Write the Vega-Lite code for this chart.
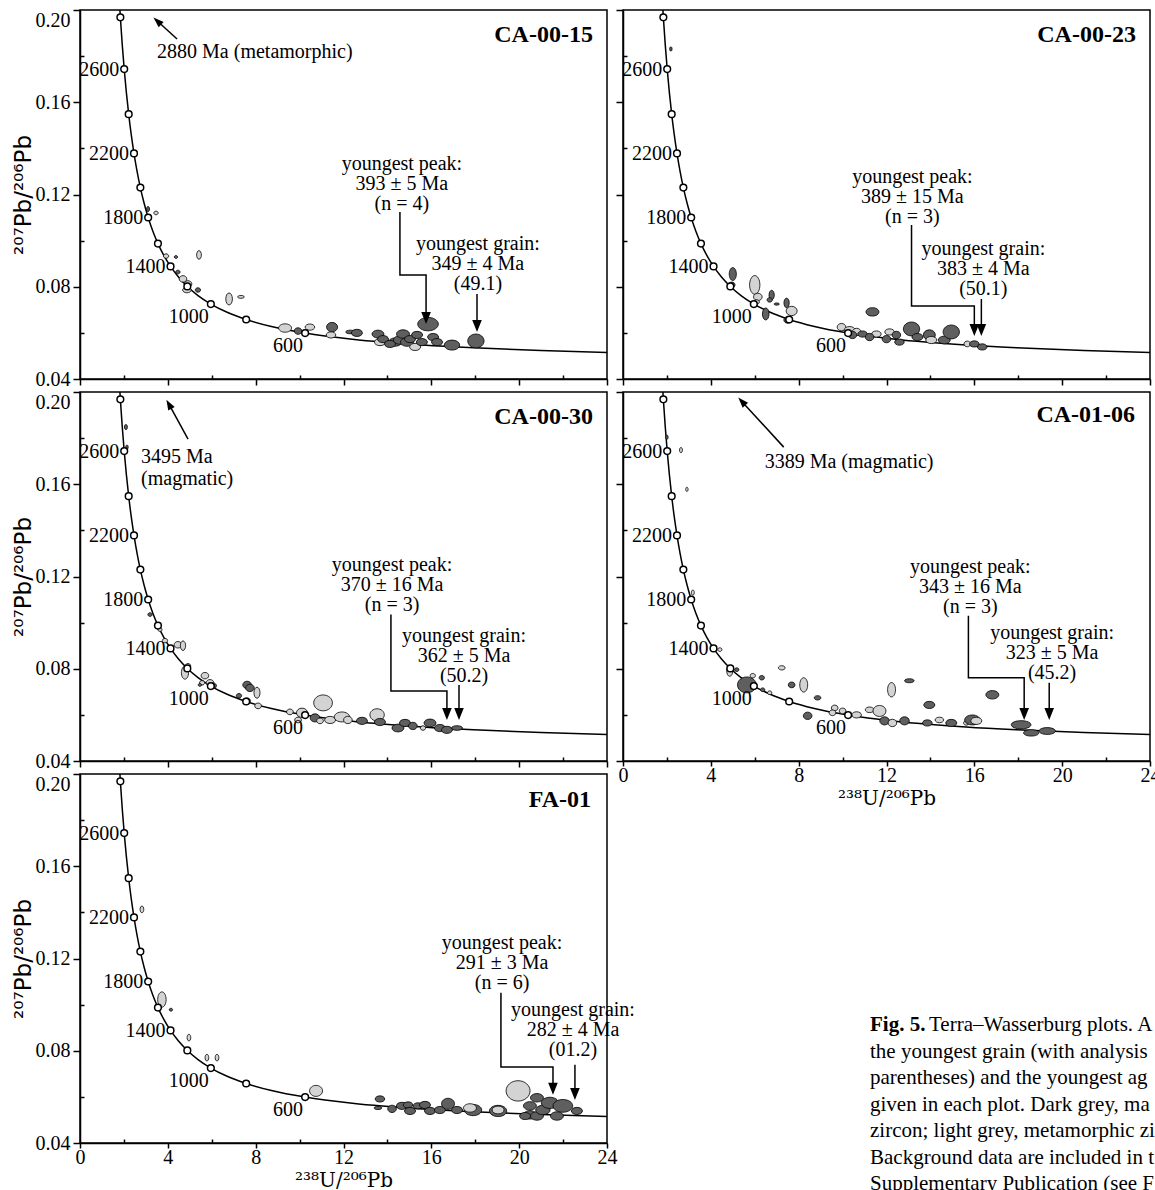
{
"$schema":"https://vega.github.io/schema/vega-lite/v6.json",
"background":"white",
"padding":{"left":11,"top":8,"right":0,"bottom":0},
"bounds":"flush",
"columns":2,
"spacing":{"row":13,"column":16},
"datasets":{
"conc":[{"t":250,"x":25.289,"y":0.051204},{"t":260,"x":24.297,"y":0.051427},{"t":300,"x":20.992,"y":0.052333},{"t":350,"x":17.923,"y":0.053499},{"t":400,"x":15.621,"y":0.054701},{"t":500,"x":12.399,"y":0.05722},{"t":600,"x":10.252,"y":0.059902},{"t":700,"x":8.718,"y":0.062758},{"t":800,"x":7.568,"y":0.0658},{"t":900,"x":6.674,"y":0.069042},{"t":1000,"x":5.959,"y":0.0725},{"t":1100,"x":5.375,"y":0.076187},{"t":1200,"x":4.888,"y":0.080123},{"t":1300,"x":4.476,"y":0.084323},{"t":1400,"x":4.123,"y":0.088807},{"t":1500,"x":3.817,"y":0.093597},{"t":1600,"x":3.55,"y":0.098715},{"t":1700,"x":3.314,"y":0.104185},{"t":1800,"x":3.105,"y":0.110036},{"t":1900,"x":2.917,"y":0.116293},{"t":2000,"x":2.749,"y":0.122987},{"t":2100,"x":2.597,"y":0.130151},{"t":2200,"x":2.459,"y":0.137819},{"t":2300,"x":2.332,"y":0.146034},{"t":2400,"x":2.217,"y":0.154834},{"t":2500,"x":2.111,"y":0.16426},{"t":2600,"x":2.013,"y":0.174366},{"t":2700,"x":1.922,"y":0.185203},{"t":2800,"x":1.838,"y":0.196821},{"t":2850,"x":1.799,"y":0.202942}],
"pts":[
{"p":"A","x":3.10,"y":0.1137,"e":0.11,"f":"v","k":"d"},{"p":"A","x":3.46,"y":0.1120,"e":0.09,"f":"c","k":"l"},{"p":"A","x":5.42,"y":0.0938,"e":0.18,"f":"v","k":"l"},{"p":"A","x":3.92,"y":0.0933,"e":0.11,"f":"c","k":"l"},{"p":"A","x":4.37,"y":0.0929,"e":0.07,"f":"c","k":"d"},{"p":"A","x":4.46,"y":0.0864,"e":0.09,"f":"c","k":"d"},{"p":"A","x":4.69,"y":0.0834,"e":0.16,"f":"c","k":"l"},{"p":"A","x":4.92,"y":0.0812,"e":0.16,"f":"c","k":"l"},{"p":"A","x":4.87,"y":0.0786,"e":0.18,"f":"h","k":"l"},{"p":"A","x":5.37,"y":0.0786,"e":0.11,"f":"c","k":"d"},{"p":"A","x":6.79,"y":0.0747,"e":0.25,"f":"v","k":"l"},{"p":"A","x":7.33,"y":0.0756,"e":0.14,"f":"f","k":"l"},{"p":"A","x":9.34,"y":0.0621,"e":0.27,"f":"h","k":"l"},{"p":"A","x":9.93,"y":0.0608,"e":0.16,"f":"c","k":"d"},{"p":"A","x":10.47,"y":0.0625,"e":0.2,"f":"h","k":"l"},{"p":"A","x":11.48,"y":0.0625,"e":0.23,"f":"c","k":"d"},{"p":"A","x":11.43,"y":0.0591,"e":0.2,"f":"h","k":"l"},{"p":"A","x":12.30,"y":0.0604,"e":0.18,"f":"f","k":"d"},{"p":"A","x":12.61,"y":0.0600,"e":0.23,"f":"h","k":"d"},{"p":"A","x":13.57,"y":0.0595,"e":0.25,"f":"h","k":"d"},{"p":"A","x":13.66,"y":0.0560,"e":0.23,"f":"h","k":"l"},{"p":"A","x":13.80,"y":0.0573,"e":0.23,"f":"h","k":"d"},{"p":"A","x":14.35,"y":0.0560,"e":0.27,"f":"h","k":"d"},{"p":"A","x":14.12,"y":0.0552,"e":0.23,"f":"h","k":"d"},{"p":"A","x":14.57,"y":0.0569,"e":0.27,"f":"h","k":"d"},{"p":"A","x":14.71,"y":0.0595,"e":0.27,"f":"h","k":"d"},{"p":"A","x":14.89,"y":0.0560,"e":0.27,"f":"h","k":"d"},{"p":"A","x":15.03,"y":0.0573,"e":0.23,"f":"h","k":"d"},{"p":"A","x":15.26,"y":0.0539,"e":0.23,"f":"h","k":"l"},{"p":"A","x":15.35,"y":0.0591,"e":0.23,"f":"h","k":"d"},{"p":"A","x":15.57,"y":0.0560,"e":0.23,"f":"h","k":"d"},{"p":"A","x":15.85,"y":0.0638,"e":0.43,"f":"h","k":"d"},{"p":"A","x":16.08,"y":0.0582,"e":0.23,"f":"h","k":"d"},{"p":"A","x":16.26,"y":0.0560,"e":0.23,"f":"h","k":"d"},{"p":"A","x":16.94,"y":0.0547,"e":0.32,"f":"h","k":"d"},{"p":"A","x":18.03,"y":0.0565,"e":0.34,"f":"c","k":"d"},
{"p":"B","x":2.18,"y":0.1831,"e":0.09,"f":"v","k":"d"},{"p":"B","x":5.00,"y":0.0855,"e":0.27,"f":"v","k":"d"},{"p":"B","x":4.95,"y":0.0808,"e":0.14,"f":"c","k":"d"},{"p":"B","x":6.00,"y":0.0808,"e":0.39,"f":"v","k":"l"},{"p":"B","x":6.14,"y":0.0756,"e":0.18,"f":"c","k":"l"},{"p":"B","x":6.09,"y":0.0734,"e":0.11,"f":"c","k":"l"},{"p":"B","x":6.77,"y":0.0764,"e":0.2,"f":"v","k":"d"},{"p":"B","x":6.68,"y":0.0743,"e":0.11,"f":"c","k":"d"},{"p":"B","x":7.00,"y":0.0725,"e":0.11,"f":"f","k":"d"},{"p":"B","x":7.45,"y":0.0730,"e":0.2,"f":"v","k":"d"},{"p":"B","x":7.68,"y":0.0695,"e":0.23,"f":"c","k":"l"},{"p":"B","x":7.50,"y":0.0656,"e":0.16,"f":"c","k":"d"},{"p":"B","x":6.50,"y":0.0682,"e":0.25,"f":"v","k":"d"},{"p":"B","x":11.36,"y":0.0691,"e":0.27,"f":"h","k":"d"},{"p":"B","x":9.95,"y":0.0625,"e":0.18,"f":"c","k":"l"},{"p":"B","x":10.32,"y":0.0612,"e":0.23,"f":"h","k":"l"},{"p":"B","x":10.64,"y":0.0604,"e":0.18,"f":"c","k":"l"},{"p":"B","x":10.45,"y":0.0591,"e":0.18,"f":"c","k":"d"},{"p":"B","x":10.91,"y":0.0595,"e":0.2,"f":"h","k":"d"},{"p":"B","x":11.54,"y":0.0595,"e":0.2,"f":"h","k":"l"},{"p":"B","x":11.23,"y":0.0582,"e":0.18,"f":"c","k":"d"},{"p":"B","x":12.14,"y":0.0604,"e":0.2,"f":"h","k":"l"},{"p":"B","x":12.00,"y":0.0573,"e":0.18,"f":"c","k":"d"},{"p":"B","x":12.45,"y":0.0591,"e":0.18,"f":"c","k":"d"},{"p":"B","x":12.59,"y":0.0560,"e":0.2,"f":"h","k":"d"},{"p":"B","x":13.14,"y":0.0617,"e":0.34,"f":"c","k":"d"},{"p":"B","x":13.41,"y":0.0582,"e":0.23,"f":"h","k":"d"},{"p":"B","x":13.95,"y":0.0591,"e":0.25,"f":"c","k":"d"},{"p":"B","x":14.04,"y":0.0569,"e":0.23,"f":"h","k":"l"},{"p":"B","x":14.63,"y":0.0569,"e":0.25,"f":"h","k":"d"},{"p":"B","x":14.95,"y":0.0604,"e":0.34,"f":"c","k":"d"},{"p":"B","x":15.68,"y":0.0552,"e":0.14,"f":"c","k":"l"},{"p":"B","x":16.00,"y":0.0552,"e":0.2,"f":"h","k":"d"},{"p":"B","x":16.36,"y":0.0539,"e":0.2,"f":"h","k":"d"},
{"p":"C","x":2.09,"y":0.1848,"e":0.11,"f":"v","k":"d"},{"p":"C","x":2.14,"y":0.1761,"e":0.09,"f":"v","k":"d"},{"p":"C","x":3.19,"y":0.1035,"e":0.09,"f":"c","k":"d"},{"p":"C","x":3.55,"y":0.0987,"e":0.11,"f":"c","k":"l"},{"p":"C","x":3.64,"y":0.0970,"e":0.09,"f":"c","k":"l"},{"p":"C","x":3.87,"y":0.0922,"e":0.11,"f":"c","k":"l"},{"p":"C","x":4.46,"y":0.0904,"e":0.16,"f":"c","k":"l"},{"p":"C","x":4.69,"y":0.0900,"e":0.2,"f":"v","k":"l"},{"p":"C","x":4.78,"y":0.0783,"e":0.27,"f":"v","k":"l"},{"p":"C","x":4.92,"y":0.0813,"e":0.11,"f":"c","k":"l"},{"p":"C","x":5.56,"y":0.0739,"e":0.11,"f":"c","k":"l"},{"p":"C","x":5.69,"y":0.0770,"e":0.16,"f":"c","k":"l"},{"p":"C","x":5.92,"y":0.0739,"e":0.16,"f":"c","k":"l"},{"p":"C","x":6.06,"y":0.0726,"e":0.14,"f":"c","k":"d"},{"p":"C","x":5.46,"y":0.0730,"e":0.07,"f":"c","k":"d"},{"p":"C","x":7.61,"y":0.0730,"e":0.18,"f":"c","k":"d"},{"p":"C","x":7.74,"y":0.0717,"e":0.18,"f":"c","k":"d"},{"p":"C","x":8.06,"y":0.0696,"e":0.23,"f":"v","k":"l"},{"p":"C","x":7.24,"y":0.0683,"e":0.11,"f":"c","k":"d"},{"p":"C","x":7.61,"y":0.0661,"e":0.14,"f":"c","k":"l"},{"p":"C","x":8.11,"y":0.0639,"e":0.14,"f":"c","k":"l"},{"p":"C","x":9.56,"y":0.0613,"e":0.14,"f":"c","k":"l"},{"p":"C","x":10.11,"y":0.0609,"e":0.23,"f":"c","k":"l"},{"p":"C","x":9.93,"y":0.0578,"e":0.14,"f":"c","k":"l"},{"p":"C","x":10.70,"y":0.0587,"e":0.2,"f":"c","k":"d"},{"p":"C","x":11.07,"y":0.0652,"e":0.39,"f":"c","k":"l"},{"p":"C","x":10.93,"y":0.0574,"e":0.14,"f":"c","k":"l"},{"p":"C","x":11.39,"y":0.0578,"e":0.23,"f":"h","k":"l"},{"p":"C","x":11.93,"y":0.0591,"e":0.32,"f":"h","k":"l"},{"p":"C","x":12.20,"y":0.0578,"e":0.18,"f":"c","k":"l"},{"p":"C","x":12.84,"y":0.0574,"e":0.23,"f":"h","k":"d"},{"p":"C","x":13.53,"y":0.0600,"e":0.3,"f":"c","k":"l"},{"p":"C","x":13.66,"y":0.0569,"e":0.23,"f":"h","k":"d"},{"p":"C","x":14.48,"y":0.0543,"e":0.25,"f":"h","k":"d"},{"p":"C","x":14.80,"y":0.0565,"e":0.23,"f":"h","k":"d"},{"p":"C","x":15.16,"y":0.0552,"e":0.18,"f":"c","k":"d"},{"p":"C","x":15.62,"y":0.0543,"e":0.11,"f":"c","k":"l"},{"p":"C","x":15.94,"y":0.0565,"e":0.25,"f":"h","k":"d"},{"p":"C","x":16.39,"y":0.0543,"e":0.23,"f":"h","k":"d"},{"p":"C","x":16.71,"y":0.0535,"e":0.23,"f":"h","k":"d"},{"p":"C","x":17.17,"y":0.0543,"e":0.23,"f":"f","k":"d"},
{"p":"D","x":2.00,"y":0.1804,"e":0.09,"f":"v","k":"d"},{"p":"D","x":2.64,"y":0.1748,"e":0.11,"f":"v","k":"l"},{"p":"D","x":2.91,"y":0.1578,"e":0.09,"f":"v","k":"l"},{"p":"D","x":3.18,"y":0.1130,"e":0.11,"f":"v","k":"l"},{"p":"D","x":4.41,"y":0.0883,"e":0.09,"f":"c","k":"l"},{"p":"D","x":4.86,"y":0.0791,"e":0.23,"f":"v","k":"l"},{"p":"D","x":5.18,"y":0.0796,"e":0.09,"f":"c","k":"d"},{"p":"D","x":5.64,"y":0.0730,"e":0.39,"f":"c","k":"d"},{"p":"D","x":5.91,"y":0.0770,"e":0.11,"f":"c","k":"l"},{"p":"D","x":6.32,"y":0.0761,"e":0.11,"f":"c","k":"d"},{"p":"D","x":6.36,"y":0.0709,"e":0.09,"f":"c","k":"d"},{"p":"D","x":6.68,"y":0.0696,"e":0.09,"f":"c","k":"l"},{"p":"D","x":7.23,"y":0.0804,"e":0.14,"f":"h","k":"l"},{"p":"D","x":7.68,"y":0.0730,"e":0.14,"f":"c","k":"d"},{"p":"D","x":8.23,"y":0.0730,"e":0.3,"f":"v","k":"l"},{"p":"D","x":8.86,"y":0.0674,"e":0.14,"f":"h","k":"d"},{"p":"D","x":8.41,"y":0.0596,"e":0.18,"f":"c","k":"d"},{"p":"D","x":9.64,"y":0.0630,"e":0.14,"f":"c","k":"l"},{"p":"D","x":9.54,"y":0.0609,"e":0.14,"f":"c","k":"l"},{"p":"D","x":10.00,"y":0.0617,"e":0.14,"f":"c","k":"l"},{"p":"D","x":10.64,"y":0.0600,"e":0.2,"f":"h","k":"l"},{"p":"D","x":11.23,"y":0.0622,"e":0.18,"f":"h","k":"l"},{"p":"D","x":11.68,"y":0.0617,"e":0.27,"f":"c","k":"l"},{"p":"D","x":11.91,"y":0.0574,"e":0.2,"f":"c","k":"d"},{"p":"D","x":12.27,"y":0.0565,"e":0.18,"f":"c","k":"l"},{"p":"D","x":12.23,"y":0.0709,"e":0.3,"f":"v","k":"l"},{"p":"D","x":12.82,"y":0.0574,"e":0.2,"f":"c","k":"d"},{"p":"D","x":13.04,"y":0.0748,"e":0.2,"f":"f","k":"d"},{"p":"D","x":13.95,"y":0.0643,"e":0.23,"f":"h","k":"d"},{"p":"D","x":13.86,"y":0.0565,"e":0.2,"f":"h","k":"d"},{"p":"D","x":14.41,"y":0.0578,"e":0.18,"f":"h","k":"l"},{"p":"D","x":14.95,"y":0.0565,"e":0.23,"f":"h","k":"d"},{"p":"D","x":15.63,"y":0.0565,"e":0.11,"f":"c","k":"l"},{"p":"D","x":15.91,"y":0.0578,"e":0.32,"f":"h","k":"d"},{"p":"D","x":16.09,"y":0.0574,"e":0.23,"f":"h","k":"l"},{"p":"D","x":16.82,"y":0.0687,"e":0.27,"f":"h","k":"d"},{"p":"D","x":18.13,"y":0.0557,"e":0.41,"f":"f","k":"d"},{"p":"D","x":18.59,"y":0.0522,"e":0.32,"f":"f","k":"d"},{"p":"D","x":19.32,"y":0.0530,"e":0.34,"f":"f","k":"d"},
{"p":"E","x":2.82,"y":0.1413,"e":0.14,"f":"v","k":"l"},{"p":"E","x":3.73,"y":0.1022,"e":0.32,"f":"v","k":"l"},{"p":"E","x":4.14,"y":0.0978,"e":0.07,"f":"c","k":"d"},{"p":"E","x":4.96,"y":0.0857,"e":0.14,"f":"v","k":"l"},{"p":"E","x":5.78,"y":0.0770,"e":0.14,"f":"v","k":"l"},{"p":"E","x":6.24,"y":0.0770,"e":0.14,"f":"v","k":"l"},{"p":"E","x":10.75,"y":0.0626,"e":0.27,"f":"c","k":"l"},{"p":"E","x":13.66,"y":0.0591,"e":0.2,"f":"h","k":"d"},{"p":"E","x":13.57,"y":0.0552,"e":0.16,"f":"f","k":"d"},{"p":"E","x":14.21,"y":0.0548,"e":0.18,"f":"c","k":"d"},{"p":"E","x":14.66,"y":0.0561,"e":0.23,"f":"h","k":"d"},{"p":"E","x":14.94,"y":0.0565,"e":0.2,"f":"h","k":"d"},{"p":"E","x":15.03,"y":0.0539,"e":0.23,"f":"h","k":"d"},{"p":"E","x":15.39,"y":0.0561,"e":0.2,"f":"h","k":"d"},{"p":"E","x":15.71,"y":0.0565,"e":0.23,"f":"h","k":"d"},{"p":"E","x":15.94,"y":0.0539,"e":0.23,"f":"h","k":"d"},{"p":"E","x":16.39,"y":0.0543,"e":0.23,"f":"h","k":"d"},{"p":"E","x":16.76,"y":0.0570,"e":0.27,"f":"c","k":"d"},{"p":"E","x":17.17,"y":0.0543,"e":0.23,"f":"h","k":"d"},{"p":"E","x":17.90,"y":0.0543,"e":0.36,"f":"h","k":"d"},{"p":"E","x":17.76,"y":0.0552,"e":0.27,"f":"h","k":"l"},{"p":"E","x":19.04,"y":0.0539,"e":0.36,"f":"h","k":"d"},{"p":"E","x":19.04,"y":0.0543,"e":0.25,"f":"h","k":"l"},{"p":"E","x":19.95,"y":0.0626,"e":0.5,"f":"c","k":"l"},{"p":"E","x":20.49,"y":0.0561,"e":0.27,"f":"h","k":"d"},{"p":"E","x":20.81,"y":0.0596,"e":0.27,"f":"h","k":"d"},{"p":"E","x":20.49,"y":0.0522,"e":0.27,"f":"h","k":"d"},{"p":"E","x":20.27,"y":0.0517,"e":0.23,"f":"h","k":"d"},{"p":"E","x":20.81,"y":0.0517,"e":0.27,"f":"h","k":"d"},{"p":"E","x":21.08,"y":0.0543,"e":0.3,"f":"h","k":"d"},{"p":"E","x":21.40,"y":0.0574,"e":0.36,"f":"h","k":"d"},{"p":"E","x":21.99,"y":0.0561,"e":0.41,"f":"h","k":"d"},{"p":"E","x":21.72,"y":0.0517,"e":0.27,"f":"h","k":"d"},{"p":"E","x":22.63,"y":0.0539,"e":0.23,"f":"h","k":"d"}
],
"arrows":[
{"p":"A","id":"o","o":1,"x":4.42,"y":0.1874},{"p":"A","id":"o","o":2,"x":3.52,"y":0.1952},
{"p":"A","id":"p","o":1,"x":14.57,"y":0.1124},{"p":"A","id":"p","o":2,"x":14.57,"y":0.0851},{"p":"A","id":"p","o":3,"x":15.76,"y":0.0851},{"p":"A","id":"p","o":4,"x":15.76,"y":0.0665},
{"p":"A","id":"g","o":1,"x":18.08,"y":0.0769},{"p":"A","id":"g","o":2,"x":18.08,"y":0.063},
{"p":"B","id":"p","o":1,"x":13.14,"y":0.1068},{"p":"B","id":"p","o":2,"x":13.14,"y":0.0717},{"p":"B","id":"p","o":3,"x":16.0,"y":0.0717},{"p":"B","id":"p","o":4,"x":16.0,"y":0.0612},
{"p":"B","id":"g","o":1,"x":16.32,"y":0.0747},{"p":"B","id":"g","o":2,"x":16.32,"y":0.0612},
{"p":"C","id":"o","o":1,"x":4.92,"y":0.1796},{"p":"C","id":"o","o":2,"x":4.05,"y":0.1947},
{"p":"C","id":"p","o":1,"x":14.16,"y":0.1035},{"p":"C","id":"p","o":2,"x":14.16,"y":0.0704},{"p":"C","id":"p","o":3,"x":16.71,"y":0.0704},{"p":"C","id":"p","o":4,"x":16.71,"y":0.0604},
{"p":"C","id":"g","o":1,"x":17.26,"y":0.073},{"p":"C","id":"g","o":2,"x":17.26,"y":0.0604},
{"p":"D","id":"o","o":1,"x":7.32,"y":0.1761},{"p":"D","id":"o","o":2,"x":5.41,"y":0.1959},
{"p":"D","id":"p","o":1,"x":15.73,"y":0.103},{"p":"D","id":"p","o":2,"x":15.73,"y":0.0761},{"p":"D","id":"p","o":3,"x":18.27,"y":0.0761},{"p":"D","id":"p","o":4,"x":18.27,"y":0.0604},
{"p":"D","id":"g","o":1,"x":19.41,"y":0.0739},{"p":"D","id":"g","o":2,"x":19.41,"y":0.0604},
{"p":"E","id":"p","o":1,"x":19.17,"y":0.1052},{"p":"E","id":"p","o":2,"x":19.17,"y":0.073},{"p":"E","id":"p","o":3,"x":21.54,"y":0.073},{"p":"E","id":"p","o":4,"x":21.54,"y":0.0635},
{"p":"E","id":"g","o":1,"x":22.54,"y":0.0739},{"p":"E","id":"g","o":2,"x":22.54,"y":0.0613}
],
"heads":[
{"p":"A","d":"v","x":15.76,"y":0.0665},{"p":"A","d":"v","x":18.08,"y":0.063},{"p":"A","d":"g","x":3.52,"y":0.1952},
{"p":"B","d":"v","x":16.0,"y":0.0612},{"p":"B","d":"v","x":16.32,"y":0.0612},
{"p":"C","d":"v","x":16.71,"y":0.0604},{"p":"C","d":"v","x":17.26,"y":0.0604},{"p":"C","d":"g","x":4.05,"y":0.1947},
{"p":"D","d":"v","x":18.27,"y":0.0604},{"p":"D","d":"v","x":19.41,"y":0.0604},{"p":"D","d":"g","x":5.41,"y":0.1959},
{"p":"E","d":"v","x":21.54,"y":0.0635},{"p":"E","d":"v","x":22.54,"y":0.0613}
],
"notes":[
{"p":"A","k":"title","x":23.36,"y":0.1892,"txt":"CA-00-15"},
{"p":"A","k":"peak","x":14.66,"y":0.1306,"txt":"youngest peak:\n393 ± 5 Ma\n(n = 4)"},
{"p":"A","k":"grain","x":18.12,"y":0.0959,"txt":"youngest grain:\n349 ± 4 Ma\n(49.1)"},
{"p":"A","k":"old","x":3.51,"y":0.1792,"txt":"2880 Ma (metamorphic)"},
{"p":"B","k":"title","x":23.36,"y":0.1892,"txt":"CA-00-23"},
{"p":"B","k":"peak","x":13.18,"y":0.125,"txt":"youngest peak:\n389 ± 15 Ma\n(n = 3)"},
{"p":"B","k":"grain","x":16.41,"y":0.0938,"txt":"youngest grain:\n383 ± 4 Ma\n(50.1)"},
{"p":"C","k":"title","x":23.36,"y":0.1891,"txt":"CA-00-30"},
{"p":"C","k":"peak","x":14.21,"y":0.1222,"txt":"youngest peak:\n370 ± 16 Ma\n(n = 3)"},
{"p":"C","k":"grain","x":17.49,"y":0.0917,"txt":"youngest grain:\n362 ± 5 Ma\n(50.2)"},
{"p":"C","k":"old","x":2.78,"y":0.1691,"txt":"3495 Ma\n(magmatic)"},
{"p":"D","k":"title","x":23.32,"y":0.19,"txt":"CA-01-06"},
{"p":"D","k":"peak","x":15.82,"y":0.1217,"txt":"youngest peak:\n343 ± 16 Ma\n(n = 3)"},
{"p":"D","k":"grain","x":19.54,"y":0.093,"txt":"youngest grain:\n323 ± 5 Ma\n(45.2)"},
{"p":"D","k":"old","x":6.45,"y":0.167,"txt":"3389 Ma (magmatic)"},
{"p":"E","k":"title","x":23.27,"y":0.1887,"txt":"FA-01"},
{"p":"E","k":"peak","x":19.22,"y":0.1243,"txt":"youngest peak:\n291 ± 3 Ma\n(n = 6)"},
{"p":"E","k":"grain","x":22.45,"y":0.0952,"txt":"youngest grain:\n282 ± 4 Ma\n(01.2)"}
],
"cap":[
{"r":1,"t":"Terra–Wasserburg plots. Ages of"},
{"r":2,"t":"the youngest grain (with analysis number in"},
{"r":3,"t":"parentheses) and the youngest age peak are"},
{"r":4,"t":"given in each plot. Dark grey, magmatic"},
{"r":5,"t":"zircon; light grey, metamorphic zircon."},
{"r":6,"t":"Background data are included in the"},
{"r":7,"t":"Supplementary Publication (see Footnote)."}
]
},
"concat":[
{"width":527,"height":369,
"encoding":{
"x":{"field":"x","type":"quantitative","scale":{"domain":[0,24],"nice":false,"zero":false},"axis":{"values":[0,2,4,6,8,10,12,14,16,18,20,22,24],"labels":false,"title":null,"tickSize":{"condition":{"test":"datum.value % 4 == 0","value":6},"value":-4}}},
"y":{"field":"y","type":"quantitative","scale":{"domain":[0.04,0.2],"nice":false,"zero":false},"axis":{"values":[0.04,0.06,0.08,0.1,0.12,0.14,0.16,0.18,0.2],"format":".2f","labelExpr":"round(datum.value*100) % 4 == 0 ? datum.label : ''","tickSize":{"condition":{"test":"round(datum.value*100) % 4 == 0","value":7},"value":-4},"labelBaseline":{"condition":{"test":"datum.value > 0.19","value":"top"},"value":"middle"},"labelPadding":3,"labelFlush":false,"labelOverlap":false,"title":"²⁰⁷Pb/²⁰⁶Pb","titleFont":"DejaVu Sans","titleFontSize":23,"titlePadding":0}}
},
"layer":[
{"data":{"name":"conc"},"mark":{"type":"line","clip":true,"color":"black","strokeWidth":1.5,"interpolate":"monotone"}},
{"data":{"name":"pts"},"transform":[{"filter":"datum.p == 'A'"}],"mark":{"type":"point","filled":true,"opacity":1,"stroke":"black","strokeWidth":0.8},"encoding":{"shape":{"field":"f","type":"nominal","scale":{"domain":["h","c","v","f"],"range":["M -1 0 A 1 0.65 0 1 0 1 0 A 1 0.65 0 1 0 -1 0 Z","M -1 0 A 1 0.85 0 1 0 1 0 A 1 0.85 0 1 0 -1 0 Z","M -0.55 0 A 0.55 1 0 1 0 0.55 0 A 0.55 1 0 1 0 -0.55 0 Z","M -1 0 A 1 0.42 0 1 0 1 0 A 1 0.42 0 1 0 -1 0 Z"]},"legend":null},"size":{"field":"e","type":"quantitative","scale":{"type":"pow","exponent":2,"domain":[0,1],"range":[0,2300]},"legend":null},"fill":{"field":"k","type":"nominal","scale":{"domain":["d","l"],"range":["#5f5f5f","#d3d3d3"]},"legend":null}}},
{"data":{"name":"conc"},"transform":[{"filter":"datum.t >= 600 && datum.t % 200 == 0"}],"mark":{"type":"point","shape":"circle","filled":true,"fill":"white","stroke":"black","strokeWidth":1.5,"size":45,"opacity":1}},
{"data":{"name":"conc"},"transform":[{"filter":"datum.t >= 1400 && datum.t % 400 == 200"}],"mark":{"type":"text","align":"right","baseline":"middle","dx":-5,"dy":1},"encoding":{"text":{"field":"t","type":"quantitative","format":"d"}}},
{"data":{"name":"conc"},"transform":[{"filter":"datum.t <= 1000 && datum.t % 400 == 200"}],"mark":{"type":"text","align":"right","baseline":"middle","dx":-2,"dy":13},"encoding":{"text":{"field":"t","type":"quantitative","format":"d"}}},
{"data":{"name":"arrows"},"transform":[{"filter":"datum.p == 'A'"}],"mark":{"type":"line","color":"black","strokeWidth":1.5},"encoding":{"detail":{"field":"id","type":"nominal"},"order":{"field":"o","type":"quantitative"}}},
{"data":{"name":"heads"},"transform":[{"filter":"datum.p == 'A' && datum.d == 'v'"}],"mark":{"type":"point","shape":"M 0 1 L -0.8 -1 L 0.8 -1 Z","filled":true,"color":"black","opacity":1,"size":144}},
{"data":{"name":"heads"},"transform":[{"filter":"datum.p == 'A' && datum.d == 'g'"}],"mark":{"type":"point","shape":"M 0 -1 L -0.7 1 L 0.7 1 Z","filled":true,"color":"black","opacity":1,"size":110,"angle":-47.5}},
{"data":{"name":"notes"},"transform":[{"filter":"datum.p == 'A' && datum.k == 'title'"}],"mark":{"type":"text","align":"right","baseline":"middle","fontWeight":"bold","fontSize":24},"encoding":{"text":{"field":"txt","type":"nominal"}}},
{"data":{"name":"notes"},"transform":[{"filter":"datum.p == 'A' && (datum.k == 'peak' || datum.k == 'grain')"}],"mark":{"type":"text","align":"center","baseline":"alphabetic","lineBreak":"\n","lineHeight":20},"encoding":{"text":{"field":"txt","type":"nominal"}}},
{"data":{"name":"notes"},"transform":[{"filter":"datum.p == 'A' && datum.k == 'old'"}],"mark":{"type":"text","align":"left","baseline":"alphabetic","lineBreak":"\n","lineHeight":22},"encoding":{"text":{"field":"txt","type":"nominal"}}}
]},
{"width":527,"height":369,
"encoding":{
"x":{"field":"x","type":"quantitative","scale":{"domain":[0,24],"nice":false,"zero":false},"axis":{"values":[0,2,4,6,8,10,12,14,16,18,20,22,24],"labels":false,"title":null,"tickSize":{"condition":{"test":"datum.value % 4 == 0","value":6},"value":-4}}},
"y":{"field":"y","type":"quantitative","scale":{"domain":[0.04,0.2],"nice":false,"zero":false},"axis":{"values":[0.04,0.06,0.08,0.1,0.12,0.14,0.16,0.18,0.2],"labels":false,"title":null,"tickSize":{"condition":{"test":"round(datum.value*100) % 4 == 0","value":7},"value":-4}}}
},
"layer":[
{"data":{"name":"conc"},"mark":{"type":"line","clip":true,"color":"black","strokeWidth":1.5,"interpolate":"monotone"}},
{"data":{"name":"pts"},"transform":[{"filter":"datum.p == 'B'"}],"mark":{"type":"point","filled":true,"opacity":1,"stroke":"black","strokeWidth":0.8},"encoding":{"shape":{"field":"f","type":"nominal","scale":{"domain":["h","c","v","f"],"range":["M -1 0 A 1 0.65 0 1 0 1 0 A 1 0.65 0 1 0 -1 0 Z","M -1 0 A 1 0.85 0 1 0 1 0 A 1 0.85 0 1 0 -1 0 Z","M -0.55 0 A 0.55 1 0 1 0 0.55 0 A 0.55 1 0 1 0 -0.55 0 Z","M -1 0 A 1 0.42 0 1 0 1 0 A 1 0.42 0 1 0 -1 0 Z"]},"legend":null},"size":{"field":"e","type":"quantitative","scale":{"type":"pow","exponent":2,"domain":[0,1],"range":[0,2300]},"legend":null},"fill":{"field":"k","type":"nominal","scale":{"domain":["d","l"],"range":["#5f5f5f","#d3d3d3"]},"legend":null}}},
{"data":{"name":"conc"},"transform":[{"filter":"datum.t >= 600 && datum.t % 200 == 0"}],"mark":{"type":"point","shape":"circle","filled":true,"fill":"white","stroke":"black","strokeWidth":1.5,"size":45,"opacity":1}},
{"data":{"name":"conc"},"transform":[{"filter":"datum.t >= 1400 && datum.t % 400 == 200"}],"mark":{"type":"text","align":"right","baseline":"middle","dx":-5,"dy":1},"encoding":{"text":{"field":"t","type":"quantitative","format":"d"}}},
{"data":{"name":"conc"},"transform":[{"filter":"datum.t <= 1000 && datum.t % 400 == 200"}],"mark":{"type":"text","align":"right","baseline":"middle","dx":-2,"dy":13},"encoding":{"text":{"field":"t","type":"quantitative","format":"d"}}},
{"data":{"name":"arrows"},"transform":[{"filter":"datum.p == 'B'"}],"mark":{"type":"line","color":"black","strokeWidth":1.5},"encoding":{"detail":{"field":"id","type":"nominal"},"order":{"field":"o","type":"quantitative"}}},
{"data":{"name":"heads"},"transform":[{"filter":"datum.p == 'B' && datum.d == 'v'"}],"mark":{"type":"point","shape":"M 0 1 L -0.8 -1 L 0.8 -1 Z","filled":true,"color":"black","opacity":1,"size":144}},
{"data":{"name":"notes"},"transform":[{"filter":"datum.p == 'B' && datum.k == 'title'"}],"mark":{"type":"text","align":"right","baseline":"middle","fontWeight":"bold","fontSize":24},"encoding":{"text":{"field":"txt","type":"nominal"}}},
{"data":{"name":"notes"},"transform":[{"filter":"datum.p == 'B' && (datum.k == 'peak' || datum.k == 'grain')"}],"mark":{"type":"text","align":"center","baseline":"alphabetic","lineBreak":"\n","lineHeight":20},"encoding":{"text":{"field":"txt","type":"nominal"}}}
]},
{"width":527,"height":369,
"encoding":{
"x":{"field":"x","type":"quantitative","scale":{"domain":[0,24],"nice":false,"zero":false},"axis":{"values":[0,2,4,6,8,10,12,14,16,18,20,22,24],"labels":false,"title":null,"tickSize":{"condition":{"test":"datum.value % 4 == 0","value":6},"value":-4}}},
"y":{"field":"y","type":"quantitative","scale":{"domain":[0.04,0.2],"nice":false,"zero":false},"axis":{"values":[0.04,0.06,0.08,0.1,0.12,0.14,0.16,0.18,0.2],"format":".2f","labelExpr":"round(datum.value*100) % 4 == 0 ? datum.label : ''","tickSize":{"condition":{"test":"round(datum.value*100) % 4 == 0","value":7},"value":-4},"labelBaseline":{"condition":{"test":"datum.value > 0.19","value":"top"},"value":"middle"},"labelPadding":3,"labelFlush":false,"labelOverlap":false,"title":"²⁰⁷Pb/²⁰⁶Pb","titleFont":"DejaVu Sans","titleFontSize":23,"titlePadding":0}}
},
"layer":[
{"data":{"name":"conc"},"mark":{"type":"line","clip":true,"color":"black","strokeWidth":1.5,"interpolate":"monotone"}},
{"data":{"name":"pts"},"transform":[{"filter":"datum.p == 'C'"}],"mark":{"type":"point","filled":true,"opacity":1,"stroke":"black","strokeWidth":0.8},"encoding":{"shape":{"field":"f","type":"nominal","scale":{"domain":["h","c","v","f"],"range":["M -1 0 A 1 0.65 0 1 0 1 0 A 1 0.65 0 1 0 -1 0 Z","M -1 0 A 1 0.85 0 1 0 1 0 A 1 0.85 0 1 0 -1 0 Z","M -0.55 0 A 0.55 1 0 1 0 0.55 0 A 0.55 1 0 1 0 -0.55 0 Z","M -1 0 A 1 0.42 0 1 0 1 0 A 1 0.42 0 1 0 -1 0 Z"]},"legend":null},"size":{"field":"e","type":"quantitative","scale":{"type":"pow","exponent":2,"domain":[0,1],"range":[0,2300]},"legend":null},"fill":{"field":"k","type":"nominal","scale":{"domain":["d","l"],"range":["#5f5f5f","#d3d3d3"]},"legend":null}}},
{"data":{"name":"conc"},"transform":[{"filter":"datum.t >= 600 && datum.t % 200 == 0"}],"mark":{"type":"point","shape":"circle","filled":true,"fill":"white","stroke":"black","strokeWidth":1.5,"size":45,"opacity":1}},
{"data":{"name":"conc"},"transform":[{"filter":"datum.t >= 1400 && datum.t % 400 == 200"}],"mark":{"type":"text","align":"right","baseline":"middle","dx":-5,"dy":1},"encoding":{"text":{"field":"t","type":"quantitative","format":"d"}}},
{"data":{"name":"conc"},"transform":[{"filter":"datum.t <= 1000 && datum.t % 400 == 200"}],"mark":{"type":"text","align":"right","baseline":"middle","dx":-2,"dy":13},"encoding":{"text":{"field":"t","type":"quantitative","format":"d"}}},
{"data":{"name":"arrows"},"transform":[{"filter":"datum.p == 'C'"}],"mark":{"type":"line","color":"black","strokeWidth":1.5},"encoding":{"detail":{"field":"id","type":"nominal"},"order":{"field":"o","type":"quantitative"}}},
{"data":{"name":"heads"},"transform":[{"filter":"datum.p == 'C' && datum.d == 'v'"}],"mark":{"type":"point","shape":"M 0 1 L -0.8 -1 L 0.8 -1 Z","filled":true,"color":"black","opacity":1,"size":144}},
{"data":{"name":"heads"},"transform":[{"filter":"datum.p == 'C' && datum.d == 'g'"}],"mark":{"type":"point","shape":"M 0 -1 L -0.7 1 L 0.7 1 Z","filled":true,"color":"black","opacity":1,"size":110,"angle":-29}},
{"data":{"name":"notes"},"transform":[{"filter":"datum.p == 'C' && datum.k == 'title'"}],"mark":{"type":"text","align":"right","baseline":"middle","fontWeight":"bold","fontSize":24},"encoding":{"text":{"field":"txt","type":"nominal"}}},
{"data":{"name":"notes"},"transform":[{"filter":"datum.p == 'C' && (datum.k == 'peak' || datum.k == 'grain')"}],"mark":{"type":"text","align":"center","baseline":"alphabetic","lineBreak":"\n","lineHeight":20},"encoding":{"text":{"field":"txt","type":"nominal"}}},
{"data":{"name":"notes"},"transform":[{"filter":"datum.p == 'C' && datum.k == 'old'"}],"mark":{"type":"text","align":"left","baseline":"alphabetic","lineBreak":"\n","lineHeight":22},"encoding":{"text":{"field":"txt","type":"nominal"}}}
]},
{"width":527,"height":369,
"encoding":{
"x":{"field":"x","type":"quantitative","scale":{"domain":[0,24],"nice":false,"zero":false},"axis":{"values":[0,2,4,6,8,10,12,14,16,18,20,22,24],"format":"d","labelExpr":"datum.value % 4 == 0 ? datum.label : ''","tickSize":{"condition":{"test":"datum.value % 4 == 0","value":5},"value":-4},"labelPadding":-1,"labelFlush":false,"labelOverlap":false,"title":"²³⁸U/²⁰⁶Pb","titleFont":"DejaVu Serif","titleFontSize":20,"titlePadding":3}},
"y":{"field":"y","type":"quantitative","scale":{"domain":[0.04,0.2],"nice":false,"zero":false},"axis":{"values":[0.04,0.06,0.08,0.1,0.12,0.14,0.16,0.18,0.2],"labels":false,"title":null,"tickSize":{"condition":{"test":"round(datum.value*100) % 4 == 0","value":7},"value":-4}}}
},
"layer":[
{"data":{"name":"conc"},"mark":{"type":"line","clip":true,"color":"black","strokeWidth":1.5,"interpolate":"monotone"}},
{"data":{"name":"pts"},"transform":[{"filter":"datum.p == 'D'"}],"mark":{"type":"point","filled":true,"opacity":1,"stroke":"black","strokeWidth":0.8},"encoding":{"shape":{"field":"f","type":"nominal","scale":{"domain":["h","c","v","f"],"range":["M -1 0 A 1 0.65 0 1 0 1 0 A 1 0.65 0 1 0 -1 0 Z","M -1 0 A 1 0.85 0 1 0 1 0 A 1 0.85 0 1 0 -1 0 Z","M -0.55 0 A 0.55 1 0 1 0 0.55 0 A 0.55 1 0 1 0 -0.55 0 Z","M -1 0 A 1 0.42 0 1 0 1 0 A 1 0.42 0 1 0 -1 0 Z"]},"legend":null},"size":{"field":"e","type":"quantitative","scale":{"type":"pow","exponent":2,"domain":[0,1],"range":[0,2300]},"legend":null},"fill":{"field":"k","type":"nominal","scale":{"domain":["d","l"],"range":["#5f5f5f","#d3d3d3"]},"legend":null}}},
{"data":{"name":"conc"},"transform":[{"filter":"datum.t >= 600 && datum.t % 200 == 0"}],"mark":{"type":"point","shape":"circle","filled":true,"fill":"white","stroke":"black","strokeWidth":1.5,"size":45,"opacity":1}},
{"data":{"name":"conc"},"transform":[{"filter":"datum.t >= 1400 && datum.t % 400 == 200"}],"mark":{"type":"text","align":"right","baseline":"middle","dx":-5,"dy":1},"encoding":{"text":{"field":"t","type":"quantitative","format":"d"}}},
{"data":{"name":"conc"},"transform":[{"filter":"datum.t <= 1000 && datum.t % 400 == 200"}],"mark":{"type":"text","align":"right","baseline":"middle","dx":-2,"dy":13},"encoding":{"text":{"field":"t","type":"quantitative","format":"d"}}},
{"data":{"name":"arrows"},"transform":[{"filter":"datum.p == 'D'"}],"mark":{"type":"line","color":"black","strokeWidth":1.5},"encoding":{"detail":{"field":"id","type":"nominal"},"order":{"field":"o","type":"quantitative"}}},
{"data":{"name":"heads"},"transform":[{"filter":"datum.p == 'D' && datum.d == 'v'"}],"mark":{"type":"point","shape":"M 0 1 L -0.8 -1 L 0.8 -1 Z","filled":true,"color":"black","opacity":1,"size":144}},
{"data":{"name":"heads"},"transform":[{"filter":"datum.p == 'D' && datum.d == 'g'"}],"mark":{"type":"point","shape":"M 0 -1 L -0.7 1 L 0.7 1 Z","filled":true,"color":"black","opacity":1,"size":110,"angle":-43}},
{"data":{"name":"notes"},"transform":[{"filter":"datum.p == 'D' && datum.k == 'title'"}],"mark":{"type":"text","align":"right","baseline":"middle","fontWeight":"bold","fontSize":24},"encoding":{"text":{"field":"txt","type":"nominal"}}},
{"data":{"name":"notes"},"transform":[{"filter":"datum.p == 'D' && (datum.k == 'peak' || datum.k == 'grain')"}],"mark":{"type":"text","align":"center","baseline":"alphabetic","lineBreak":"\n","lineHeight":20},"encoding":{"text":{"field":"txt","type":"nominal"}}},
{"data":{"name":"notes"},"transform":[{"filter":"datum.p == 'D' && datum.k == 'old'"}],"mark":{"type":"text","align":"left","baseline":"alphabetic","lineBreak":"\n","lineHeight":22},"encoding":{"text":{"field":"txt","type":"nominal"}}}
]},
{"width":527,"height":369,
"encoding":{
"x":{"field":"x","type":"quantitative","scale":{"domain":[0,24],"nice":false,"zero":false},"axis":{"values":[0,2,4,6,8,10,12,14,16,18,20,22,24],"format":"d","labelExpr":"datum.value % 4 == 0 ? datum.label : ''","tickSize":{"condition":{"test":"datum.value % 4 == 0","value":5},"value":-4},"labelPadding":-1,"labelFlush":false,"labelOverlap":false,"title":"²³⁸U/²⁰⁶Pb","titleFont":"DejaVu Serif","titleFontSize":20,"titlePadding":3}},
"y":{"field":"y","type":"quantitative","scale":{"domain":[0.04,0.2],"nice":false,"zero":false},"axis":{"values":[0.04,0.06,0.08,0.1,0.12,0.14,0.16,0.18,0.2],"format":".2f","labelExpr":"round(datum.value*100) % 4 == 0 ? datum.label : ''","tickSize":{"condition":{"test":"round(datum.value*100) % 4 == 0","value":7},"value":-4},"labelBaseline":{"condition":{"test":"datum.value > 0.19","value":"top"},"value":"middle"},"labelPadding":3,"labelFlush":false,"labelOverlap":false,"title":"²⁰⁷Pb/²⁰⁶Pb","titleFont":"DejaVu Sans","titleFontSize":23,"titlePadding":0}}
},
"layer":[
{"data":{"name":"conc"},"mark":{"type":"line","clip":true,"color":"black","strokeWidth":1.5,"interpolate":"monotone"}},
{"data":{"name":"pts"},"transform":[{"filter":"datum.p == 'E'"}],"mark":{"type":"point","filled":true,"opacity":1,"stroke":"black","strokeWidth":0.8},"encoding":{"shape":{"field":"f","type":"nominal","scale":{"domain":["h","c","v","f"],"range":["M -1 0 A 1 0.65 0 1 0 1 0 A 1 0.65 0 1 0 -1 0 Z","M -1 0 A 1 0.85 0 1 0 1 0 A 1 0.85 0 1 0 -1 0 Z","M -0.55 0 A 0.55 1 0 1 0 0.55 0 A 0.55 1 0 1 0 -0.55 0 Z","M -1 0 A 1 0.42 0 1 0 1 0 A 1 0.42 0 1 0 -1 0 Z"]},"legend":null},"size":{"field":"e","type":"quantitative","scale":{"type":"pow","exponent":2,"domain":[0,1],"range":[0,2300]},"legend":null},"fill":{"field":"k","type":"nominal","scale":{"domain":["d","l"],"range":["#5f5f5f","#d3d3d3"]},"legend":null}}},
{"data":{"name":"conc"},"transform":[{"filter":"datum.t >= 600 && datum.t % 200 == 0"}],"mark":{"type":"point","shape":"circle","filled":true,"fill":"white","stroke":"black","strokeWidth":1.5,"size":45,"opacity":1}},
{"data":{"name":"conc"},"transform":[{"filter":"datum.t >= 1400 && datum.t % 400 == 200"}],"mark":{"type":"text","align":"right","baseline":"middle","dx":-5,"dy":1},"encoding":{"text":{"field":"t","type":"quantitative","format":"d"}}},
{"data":{"name":"conc"},"transform":[{"filter":"datum.t <= 1000 && datum.t % 400 == 200"}],"mark":{"type":"text","align":"right","baseline":"middle","dx":-2,"dy":13},"encoding":{"text":{"field":"t","type":"quantitative","format":"d"}}},
{"data":{"name":"arrows"},"transform":[{"filter":"datum.p == 'E'"}],"mark":{"type":"line","color":"black","strokeWidth":1.5},"encoding":{"detail":{"field":"id","type":"nominal"},"order":{"field":"o","type":"quantitative"}}},
{"data":{"name":"heads"},"transform":[{"filter":"datum.p == 'E' && datum.d == 'v'"}],"mark":{"type":"point","shape":"M 0 1 L -0.8 -1 L 0.8 -1 Z","filled":true,"color":"black","opacity":1,"size":144}},
{"data":{"name":"notes"},"transform":[{"filter":"datum.p == 'E' && datum.k == 'title'"}],"mark":{"type":"text","align":"right","baseline":"middle","fontWeight":"bold","fontSize":24},"encoding":{"text":{"field":"txt","type":"nominal"}}},
{"data":{"name":"notes"},"transform":[{"filter":"datum.p == 'E' && (datum.k == 'peak' || datum.k == 'grain')"}],"mark":{"type":"text","align":"center","baseline":"alphabetic","lineBreak":"\n","lineHeight":20},"encoding":{"text":{"field":"txt","type":"nominal"}}}
]},
{"width":494,"height":369,"view":{"stroke":null},
"encoding":{"y":{"field":"r","type":"quantitative","scale":{"domain":[-8.47,5.45],"reverse":true,"nice":false,"zero":false},"axis":null}},
"layer":[
{"data":{"values":[{"r":1,"t":"Fig. 5."}]},"mark":{"type":"text","align":"left","baseline":"middle","fontWeight":"bold","fontSize":21},"encoding":{"text":{"field":"t","type":"nominal"}}},
{"data":{"name":"cap"},"transform":[{"filter":"datum.r == 1"}],"mark":{"type":"text","align":"left","baseline":"middle","fontSize":21,"dx":59,"limit":226,"ellipsis":"\u200b"},"encoding":{"text":{"field":"t","type":"nominal"}}},
{"data":{"name":"cap"},"transform":[{"filter":"datum.r > 1"}],"mark":{"type":"text","align":"left","baseline":"middle","fontSize":21,"limit":285,"ellipsis":"\u200b"},"encoding":{"text":{"field":"t","type":"nominal"}}}
]}
],
"config":{
"view":{"stroke":"black","strokeWidth":1.5},
"axis":{"domainColor":"black","domainWidth":1.5,"tickColor":"black","tickWidth":1.5,"labelColor":"black","labelFont":"Liberation Serif","labelFontSize":20,"titleColor":"black","titleFont":"Liberation Serif","titleFontWeight":"normal","titleFontSize":21,"grid":false},
"text":{"font":"Liberation Serif","fontSize":20,"color":"black"}
}
}
